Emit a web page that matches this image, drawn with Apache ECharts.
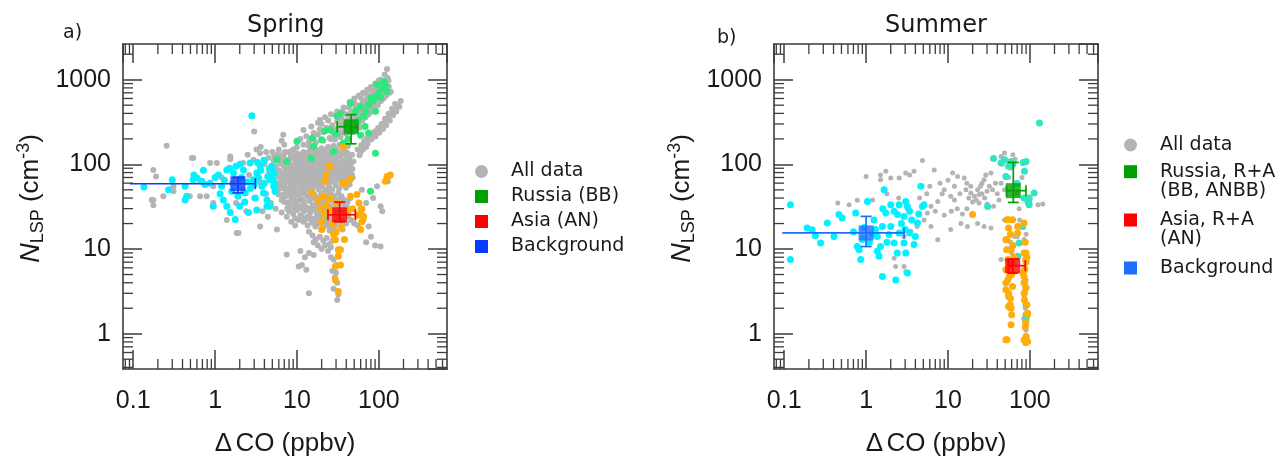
<!DOCTYPE html>
<html><head><meta charset="utf-8">
<script src="https://cdn.jsdelivr.net/npm/echarts@6/dist/echarts.min.js"></script>
<style>html,body{margin:0;padding:0;background:#fff}#c{width:1281px;height:457px}</style>
</head><body><div id="c"></div>
<script>
// ---------- ticks ----------
const xTickLabels = ['0.1', '1', '10', '100'];
const yTickLabels = ['1', '10', '100', '1000'];
const xMinorTicks = [0.08,0.09,0.2,0.3,0.4,0.5,0.6,0.7,0.8,0.9,2,3,4,5,6,7,8,9,20,30,40,50,60,70,80,90,200,300,400,500,600];
const yMinorTicks = [0.4,0.5,0.6,0.7,0.8,0.9,2,3,4,5,6,7,8,9,20,30,40,50,60,70,80,90,200,300,400,500,600,700,800,900,2000];
const xRange = [0.075, 680];
const yRange = [0.383, 2640];

// ---------- legend names ----------
const springNames = ['All data', 'Russia (BB)', 'Asia (AN)', 'Background'];
const summerNames = ['All data', 'Russia, R+A\n(BB, ANBB)', 'Asia, R+A\n(AN)', 'Background'];

// ---------- Spring data ----------
const springAll = [
[30,260],[33,280],[36,300],[38,250],[41,330],[44,360],[47,320],[50,380],[53,410],[56,350],[59,440],[62,470],[66,420],[70,500],[74,540],[78,470],[82,580],[86,620],[90,560],[95,680],[100,720],[105,650],[110,800],[116,870],[122,950],[128,1050],[126,1340],[118,1150],[108,930],[98,820],[88,740],[80,650],[72,600],[64,560],[58,500],[52,460],[46,420],[40,390],[35,350],[31,320],[27,290],[24,260],[21,240],[18,225],[16,200],[14,185],[12,170],[10,160],[9,150],[8,140],[7,135],[26,200],[29,215],[33,230],[37,240],[42,280],[48,300],[54,330],[61,380],[68,400],[76,430],[84,510],[93,600],[102,560],[112,680],[120,760],[132,830],[140,720],[24,330],[30,380],[36,420],[43,470],[51,520],[60,610],[70,680],[80,760],[92,880],[105,1000],[58,270],[20,300],[19,335],[6.8,224],
[11,200],[13,215],[14,165],[16,235],[17,180],[19,260],[21,190],[23,270],[25,205],[27,240],[29,195],[32,265],[34,210],[38,285],[40,230],[43,310],[45,250],[49,340],[52,280],[55,390],[57,310],[60,430],[63,330],[66,470],[69,360],[72,520],[75,390],[78,560],[82,420],[85,650],[89,470],[93,700],[97,500],[101,780],[106,560],[110,860],[114,600],[119,900],[124,650],[131,980],[135,700],[12,255],[15,280],[18,310],[22,360],[26,390],[31,420],[37,470],[44,550],[50,600],[57,650],[64,700],[72,760],[80,820],[90,900],[100,980],
[55,150],[61,168],[64,150],[69,190],[73,176],[77,214],[81,198],[86,228],[91,214],[96,252],[101,236],[106,278],[112,262],[117,310],[123,290],[129,350],[136,330],[142,400],[149,380],[156,440],[163,420],[171,500],[178,480],[185,560],[158,520],[145,455],[131,395],[119,345],[108,300],[98,268],[89,245],[80,226],[72,205],[66,186],[60,140],[70,160],[58,128],
[5.2,110],[6,118],[6.8,125],[7.6,112],[8.4,130],[9.2,120],[10,135],[11,118],[12,140],[13,125],[14.5,145],[15.5,128],[17,150],[18.5,132],[20,155],[22,138],[24,160],[26,142],[28,165],[30,150],[33,170],[36,155],[39,180],[42,165],[5.5,95],[6.3,102],[7.1,92],[7.9,105],[8.7,96],[9.6,108],[10.5,98],[11.5,110],[12.6,100],[13.8,112],[15,102],[16.4,115],[18,104],[19.7,118],[21.5,106],[23.5,120],[25.7,108],[28,122],[30.5,110],[33.3,125],[36.4,112],[39.7,128],[43,115],[47,130],[5,80],[5.8,86],[6.6,78],[7.4,88],[8.2,80],[9,90],[9.9,82],[10.9,92],[12,84],[13.2,94],[14.5,86],[16,96],[17.6,88],[19.4,98],[21.3,90],[23.4,100],[25.7,92],[28.3,102],[31,94],[34,104],[37.5,96],[41,106],[45,98],[49,108],
[5,68],[5.7,72],[6.5,65],[7.3,74],[8.1,67],[8.9,76],[9.8,69],[10.8,78],[11.9,71],[13.1,80],[14.4,73],[15.8,82],[17.4,75],[19.1,84],[21,77],[23.1,86],[25.4,79],[27.9,88],[30.7,81],[33.8,90],[37.2,83],[41,92],[45,85],[5.4,58],[6.2,61],[7,55],[7.8,63],[8.6,57],[9.5,65],[10.4,59],[11.4,67],[12.5,61],[13.7,69],[15,63],[16.5,71],[18.1,65],[19.9,73],[21.9,67],[24.1,75],[26.5,69],[29.1,77],[32,71],[35.2,79],[38.7,73],[42.6,81],[47,75],[5.8,50],[6.6,53],[7.4,48],[8.3,55],[9.2,50],[10.1,57],[11.1,52],[12.2,59],[13.4,54],[14.7,61],[16.2,56],[17.8,63],[19.6,58],[21.6,65],[23.8,60],[26.2,67],[28.8,62],[31.7,69],[34.9,64],[38.4,71],[42.3,66],
[6,44],[6.8,40],[7.6,46],[8.4,42],[9.3,48],[10.2,44],[11.2,40],[12.3,46],[13.5,42],[14.8,48],[16.3,44],[17.9,40],[19.7,46],[21.7,42],[23.9,48],[26.3,44],[28.9,40],[31.8,46],[35,42],[7,36],[7.9,33],[8.8,38],[9.7,34],[10.7,39],[11.8,35],[13,31],[14.3,37],[15.7,33],[17.3,38],[19,34],[20.9,30],[23,36],[25.3,32],[27.8,37],[30.6,33],[33.7,38],[37,34],[40.7,31],
[8,28],[9,26],[10,29],[11,25],[12.1,28],[13.3,24],[14.6,27],[16,23],[17.6,26],[19.4,22],[21.3,25],[23.4,21],[25.7,24],[28.3,20],[31,23],[34,19.5],[12,21],[13.5,19],[15,22],[16.8,18.5],[18.5,20],[20.5,17],[22.5,19],[25,16.5],[27.5,18],[30,15.5],[38,27],[42,24],[46,22],[50,20],[55,19],[60,17],
[5.3,125],[5.9,133],[6.4,108],[7.2,140],[7.7,99],[8.3,117],[8.8,145],[9.4,101],[9.9,126],[10.6,113],[11.3,131],[11.9,104],[12.7,119],[13.4,137],[14.1,107],[14.9,121],[15.8,139],[16.7,109],[17.5,124],[18.4,142],[19.3,111],[20.6,127],[21.8,147],[22.9,114],[24.4,131],[25.9,117],[27.2,137],[29,127],[31.5,140],[34.5,132],[37.8,145],[41,138],[44,125],
[5.1,90],[5.6,77],[6.1,84],[6.9,96],[7.3,83],[7.9,73],[8.5,87],[9.1,79],[9.8,95],[10.3,86],[11.1,74],[11.7,96],[12.5,88],[13.5,77],[14.2,97],[15.3,90],[16.3,78],[17,99],[18.3,93],[19.5,80],[20.4,100],[22.2,94],[24.2,82],[26.3,98],[27.2,84],[29.5,95],[32.5,84],[35.5,99],[39,89],[43.5,93],[47.5,88],
[5.2,62],[5.9,56],[6.4,70],[7.1,60],[7.6,68],[8.3,60],[8.8,71],[9.6,61],[10.2,72],[11,62],[11.8,75],[12.8,66],[13.3,57],[14.2,65],[15.4,76],[16.1,60],[17,68],[18.6,77],[19.2,61],[20.6,70],[22.5,80],[23,63],[25,72],[27,63],[28.5,83],[30.3,74],[33,66],[36.5,75],[40,68],[44,77],[48,70],
[5.6,47],[6.3,52],[6.9,44],[7.8,51],[8.6,45],[9.4,53],[10.6,47],[11.5,55],[12.6,49],[13.9,56],[15.2,50],[16.8,57],[18.3,51],[20.2,55],[22.3,50],[24.6,56],[27,51],[29.8,57],[32.8,52],[36.2,58],[39.8,53],[44,58],
[6.5,38],[7.3,42],[8.1,36],[9,41],[9.9,36.5],[10.9,42],[12.1,37],[13.2,43],[14.6,38.5],[16,41],[17.6,35.5],[19.5,41],[21.2,37],[23.5,42],[25.9,38],[28.3,42],[31.2,37],[34.4,41.5],[38,38],[41.6,36],[45,40],
[7.6,30],[8.5,32],[9.4,30],[10.3,32],[11.3,30.5],[12.4,33],[13.8,29],[15.1,31],[16.6,29],[18.2,31.5],[20,28],[22,32],[24.2,28.5],[26.6,30],[29.3,28],[32.3,30],[35.5,29],[39,30.5],
[9.5,23],[10.5,22],[11.6,23.5],[12.8,22.5],[14,24],[15.4,20.5],[17,21.5],[18.8,24],[20.3,20],[22.2,22.5],[24.2,19],[26.5,21.5],[29,18.5],[32,21],[35.5,22],[36,17],[40,20],
[14,16],[15.5,14.5],[17,13],[19,14],[21,12.5],[23,13.5],[25,11.5],[27,12.5],[16,12],[18,11],[20,10],[22,11],[24,9.5],[26,10.5],[14,9],[16,8.5],[12.5,8],[11,9.5],[7.5,8.6],[10.5,6.2],[13,5.7],[11.5,6.5],[26,8],[28,7.5],[30,6.5],[27,5.5],[29,4.6],[31,4],[28,3.4],[32,2.9],[31,2.5],[14,3],[30,5.2],
[65,22],[75,18.5],[105,32],[129,63],[132,72],[105,10.7],[90,11],[80,14],[70,12],[110,28],[60,30],[70,35],[85,40],[62,50],[95,55],
[4.5,120],[5,140],[6,150],[7,170],[6.5,190],[3.55,135],[3.9,113],[2.95,113],[2.2,104],[1.53,124],[1.05,104],[0.87,104],[0.54,119],[0.256,166],[0.176,86],[0.19,72],[0.176,38],[0.176,33],[0.31,55],[0.49,42],[0.655,42],[0.95,35],[1.39,22],[1.84,15.5],[3.55,18.5],[5.7,17],[0.168,38],[0.233,42],[0.31,48],[0.52,119],[0.655,63],[0.79,42],[0.95,55],[1.53,115],[1.93,15.5],[2.5,130],[3.2,150],[4,100],[3,245],[4.2,140],[3.6,160],
[1.2,70],[1.6,60],[2.2,50],[2.6,75],[3,40],[3.5,62],[4.2,45],[4.6,80],[1.8,35],[2.4,28],[3.8,28],[4.4,24],[5.5,30],[6.5,27],[7.5,24],[8.5,21],[9.5,19],[4.8,35]
];
const springBgPts = [
[0.135,54],[0.30,66],[0.27,50],[0.43,55],[0.43,38],[0.45,42],[0.54,66],[0.69,63],[0.72,85],[0.6,69],[0.87,60],[1.39,86],[1.68,79],[1.2,55],[1.26,38],[1.39,32],[1.53,27],[1.76,22.3],[2.0,32],[2.56,27],[2.33,46],[2.95,66],[3.23,79],[3.55,95],[3.73,55],[3.9,46],[4.3,38],[4.7,66],[5.2,79],[4.9,95],[4.3,32],[3.23,29],[4.7,32],[5.2,55],[2.22,86],[2.68,104],[2.81,376],[1.1,75],[1.3,65],[1.5,90],[1.0,70],[2.1,70],[2.5,62],[2.7,52],[3.0,58],[3.4,70],[3.6,85],[4.0,60],[4.4,72],[4.6,88],[5.0,68],[5.3,62],[5.4,48],[3.1,40],[2.3,36],[1.9,42],[1.6,48],[1.15,45],[0.95,32],[0.55,75],[0.75,58],[4.0,110],[3.3,105],[2.0,100],[1.8,95]
];
const springRuPts = [
[115,955],[95,870],[126,727],[91,635],[75,505],[91,423],[65,369],[52,423],[45,525],[34,400],[31,369],[25.6,257],[20,195],[15.3,204],[16,164],[10,187],[15,118],[7.5,108],[5.7,113],[28,142],[37,179],[47,245],[68,281],[75,234],[91,135],[79,48],[110,800],[100,700],[85,560],[60,480],[55,330],[40,300],[42,200],[120,860],[105,620],[70,420],[80,600],[30,230],[22,250],[60,220]
];
const springAsPts = [
[25.6,95],[23,75],[39,60],[22,63],[15.3,46],[21,42],[23,33],[19.3,30.4],[25.6,29],[45,42],[54,44],[57,35],[60,26.6],[65,24.3],[62,21],[60,17],[20,21],[20,17],[28,14.8],[29.5,12.9],[32,9.8],[34,9.8],[32,8.2],[29.5,6.2],[34,6.5],[29.5,4.3],[32,3.16],[126,72],[138,75],[120,63],[36.6,160],[24.4,95],[45,67],[36,60],[18,38],[25,40],[30,35],[42,28],[48,30],[55,25],[62,30],[22,26],[27,20],[35,18],[30,16],[38,13]
];
// mean: [x, y, xLow, xHigh, yLow, yHigh]
const springRuMean = [[45.8, 278, 31, 55, 175, 386]];
const springAsMean = [[33.2, 25.4, 23.9, 51.7, 21, 35.9]];
const springBgMean = [[1.9, 59, 0.091, 3.1, 46, 70]];

// ---------- Summer data ----------
const summerAll = [
[0.62,33.4],[0.78,37.6],[1.0,72],[1.5,66],[1.5,75],[1.74,83],[2.0,69],[2.53,69],[3.05,79],[3.4,75],[3.85,83],[4.88,111],[6.8,86],[11.4,79],[13.1,72],[15.8,69],[16.6,50],[19,46],[21,42],[23,50],[20,36],[25,55],[27.6,66],[29,75],[33.5,79],[44.5,124],[49,136],[24,44],[10.8,42],[9,50],[7.5,36.5],[6.2,32],[5.6,26.6],[5.1,22],[6.2,18.5],[7.5,12.9],[10.8,17],[14.4,20],[17.3,18.5],[23,20],[27.6,18.5],[33.5,17.7],[49,22],[4.2,18.5],[3.5,16.2],[2.9,14.1],[2.2,7.8],[2.3,6.2],[2.9,6.2],[3.05,5.4],[56,99],[44.5,60],[49,50],[126,33.4],[144,34],[74,30],[44.5,7.5],[65,14.1],[86,11.8],[90,9],[90,4.3],[86,2.76],[90,1.22],
[18,40],[22,38],[26,45],[28,40],[30,48],[32,55],[35,50],[38,60],[26,60],[24,35],[30,34],[36,32],[40,45],[42,38],[19,55],[17,60],[14,45],[12,38],[8.5,45],[6,55],[5.5,45],[4.5,40],[7,28],[9,25],[11,28],[13,30],[15,26],[17,30],[3.2,30],[2.5,40],[1.8,45],[1.2,38],[0.45,35],[8,60],[10,65],[12,55],
[52,110],[58,90],[46,100],[55,70],[62,130],[66,115],[95,40],[100,38],[70,45],[80,70],
[58,12],[60,9],[85,13],[88,6],[86,3.5],[88,2],[84,1.5],[90,1.1],[55,10],[62,7],[84,18],[90,15],[75,22],[70,14]
];
const summerBgPts = [
[0.119,33.4],[0.119,7.5],[0.191,17.7],[0.22,16.9],[0.24,14.4],[0.278,11.8],[0.336,20.3],[0.405,14.1],[0.466,25.5],[0.51,23.2],[0.746,26.6],[0.78,10.7],[0.82,9.8],[0.86,7.5],[1.04,36.5],[1.37,9.4],[1.44,8.2],[1.37,14.1],[1.58,4.75],[1.58,18.5],[1.74,26.6],[1.66,50],[2.0,33.4],[2.0,18.5],[1.9,14.8],[2.2,11.8],[2.3,4.3],[2.42,25.5],[2.53,33.4],[2.9,24.3],[3.05,36.5],[3.2,31.7],[2.9,11.8],[3.05,9],[3.2,5.2],[3.4,15.5],[3.85,11.3],[4.0,14.1],[4.24,20.3],[4.66,55],[4.88,31.7],[5.1,33.4],[2.53,15.5],[1.5,10.7],[1.2,15],[1.1,12],[0.95,18],[1.25,22],[1.8,12],[2.7,20],[3.6,22],[2.2,28],[1.6,30],[3.4,28],[4.4,26],[3.0,17],[2.4,9],[1.3,17],[0.7,16],[0.9,13]
];
const summerRuPts = [
[131,308],[36,117],[44.5,104],[59,108],[90,108],[51,72],[86,83],[113,46],[98,40],[98,33.4],[30.5,31.9],[81,18.5],[74,11.8],[71,8.2],[90,2.2],[90,1.68],[90,1.46],[49,113],[62,100],[70,60],[85,40],[95,36],[55,95],[83,105]
];
const summerAsPts = [
[20,25.5],[55,22.2],[55,17.7],[51,12.9],[52,9.8],[54,7.5],[51,5.7],[54,4.35],[51,3.3],[55,2.76],[55,2.1],[59,2.0],[59,1.28],[51,0.85],[56,4.75],[71,18.5],[71,15.5],[90,9],[90,7.1],[86,5.7],[85,4.75],[86,4],[86,3.0],[86,2.5],[94,1.75],[90,0.93],[94,0.81],[82,5.2],[52.6,22.2],[61.5,22.2],[52.6,12.9],[59,9.8],[85,20.3],[85,9],[89,7.5],[87,5.7],[51,4],[61.5,3.6],[85,4],[85,3.0],[57.5,2.2],[60,1.68],[94,1.68],[89,1.34],[52.6,0.85],[85,0.85],[89,0.78],[58,15],[62,11],[64,8],[57,6.5],[60,5],[88,12],[92,8],[90,3.5],[92,2.2],[88,1.2],[55,3],[58,2.6]
];
const summerRuMean = [[62.8, 48.9, 52, 89.8, 35.5, 105.5]];
const summerAsMean = [[61.7, 6.36, 55, 88, 5.2, 7.6]];
const summerBgMean = [[1.0, 15.5, 0.0945, 2.91, 10.7, 24.3]];

// ---------- styling ----------
const AX = '#3c3c3c';
const C = {gray:'#b4b4b4', cyan:'#00f2ff', green:'#2ee87e', turq:'#2ee6c2', orange:'#ffad0a',
  ruSq:'#00a000', asSq:'#ff0000', bgSqA:'#0a3cff', bgSqB:'#1f6fff'};

function tickLabel(v, labels){
  const t = labels.find(s => Math.abs(Math.log10(v) - Math.log10(parseFloat(s))) < 1e-6);
  return t === undefined ? '' : t;
}
function mkAxis(gi, kind, pos, showLabel){
  const isX = kind === 'x';
  const labels = isX ? xTickLabels : yTickLabels;
  const r = isX ? xRange : yRange;
  return {
    type:'log', logBase:10, gridIndex:gi, position:pos, min:r[0], max:r[1],
    axisLine:{show:true, onZero:false, lineStyle:{color:AX, width:1.6}},
    axisTick:{show:true, inside:true, length:19, lineStyle:{color:AX, width:1.5}},
    minorTick:{show:false}, splitLine:{show:false}, minorSplitLine:{show:false},
    axisLabel:{show:showLabel, showMinLabel:false, showMaxLabel:false, margin: isX?20:12,
      fontSize:25, fontFamily:'Liberation Sans', color:'#1a1a1a',
      formatter: v => tickLabel(v, labels)},
    name: showLabel ? (isX ? '{a|Δ}{s| }{a|CO (ppbv)}' : '{i|N}{sub|LSP}{a| (cm}{sup|-3}{a|)}') : '',
    nameLocation:'middle', nameGap: isX ? 59 : 76, nameRotate: isX ? 0 : 90,
    nameTextStyle:{
      color:'#1a1a1a', fontFamily:'Liberation Sans', padding: isX ? 0 : [0,0,0,16],
      rich:{
        a:{fontSize:26, fontFamily:'Liberation Sans', color:'#1a1a1a', lineHeight:32},
        s:{fontSize:12, lineHeight:32},
        i:{fontSize:27, fontStyle:'italic', fontFamily:'Liberation Sans', color:'#1a1a1a', lineHeight:32},
        sub:{fontSize:18, fontFamily:'Liberation Sans', color:'#1a1a1a', verticalAlign:'bottom', lineHeight:14},
        sup:{fontSize:18, fontFamily:'Liberation Sans', color:'#1a1a1a', verticalAlign:'top', lineHeight:8}
      }
    }
  };
}

// minor ticks drawn through the axes' own scales
function minorTickSeries(gi){
  const ax = {xAxisIndex: gi*2, yAxisIndex: gi*2};
  const data = xMinorTicks.map(v => [v, yRange[0], 0]).concat(yMinorTicks.map(v => [xRange[0], v, 1]));
  return Object.assign({
    type:'custom', name:'minor ticks', silent:true, z:10, clip:false, data,
    renderItem(params, api){
      const v0 = api.value(0), v1 = api.value(1), dir = api.value(2);
      const st = {stroke:AX, lineWidth:1.3};
      const L = 10;
      if (dir === 0) {
        const b = api.coord([v0, yRange[0]]), t = api.coord([v0, yRange[1]]);
        return {type:'group', children:[
          {type:'line', shape:{x1:b[0], y1:b[1], x2:b[0], y2:b[1]-L}, style:st},
          {type:'line', shape:{x1:t[0], y1:t[1], x2:t[0], y2:t[1]+L}, style:st}]};
      }
      const l = api.coord([xRange[0], v1]), r = api.coord([xRange[1], v1]);
      return {type:'group', children:[
        {type:'line', shape:{x1:l[0], y1:l[1], x2:l[0]+L, y2:l[1]}, style:st},
        {type:'line', shape:{x1:r[0], y1:r[1], x2:r[0]-L, y2:r[1]}, style:st}]};
    }
  }, ax);
}

function errRender(color, capLowX){
  return function(params, api){
    const x = api.value(0), y = api.value(1);
    const c = api.coord([x, y]);
    const xl = api.coord([api.value(2), y]), xh = api.coord([api.value(3), y]);
    const yl = api.coord([x, api.value(4)]), yh = api.coord([x, api.value(5)]);
    const st = {stroke: color, lineWidth: 1.7};
    const k = 5.5;
    const ch = [
      {type:'line', shape:{x1:xl[0], y1:c[1], x2:xh[0], y2:c[1]}, style:st},
      {type:'line', shape:{x1:c[0], y1:yl[1], x2:c[0], y2:yh[1]}, style:st},
      {type:'line', shape:{x1:xh[0], y1:c[1]-k, x2:xh[0], y2:c[1]+k}, style:st},
      {type:'line', shape:{x1:c[0]-k, y1:yl[1], x2:c[0]+k, y2:yl[1]}, style:st},
      {type:'line', shape:{x1:c[0]-k, y1:yh[1], x2:c[0]+k, y2:yh[1]}, style:st}
    ];
    if (capLowX) ch.push({type:'line', shape:{x1:xl[0], y1:c[1]-k, x2:xl[0], y2:c[1]+k}, style:st});
    return {type:'group', children: ch};
  };
}

function panelSeries(gi, d){
  const ax = {xAxisIndex: gi*2, yAxisIndex: gi*2};
  const pts = (name, data, color, size, z) => Object.assign({type:'scatter', name, data, symbolSize:size,
    itemStyle:{color, opacity:1}, z, silent:true, emphasis:{disabled:true}}, ax);
  const err = (name, data, color, capLowX) => Object.assign({type:'custom', name, data,
    renderItem: errRender(color, capLowX), z:5, silent:true}, ax);
  const sq = (name, data, color) => Object.assign({type:'scatter', name, data:data.map(r=>[r[0],r[1]]),
    symbol:'rect', symbolSize:15, itemStyle:{color}, z:6}, ax);
  return [
    pts(d.names[0], d.all, C.gray, gi ? 5 : 6, 1),
    pts(d.names[3] + ' points', d.bg, C.cyan, 7, 2),
    pts(d.names[1] + ' points', d.ru, d.ruColor, 7, 3),
    pts(d.names[2] + ' points', d.as, C.orange, 7, 3),
    err(d.names[1], d.ruM, C.ruSq, true),
    err(d.names[2], d.asM, C.asSq, true),
    err(d.names[3], d.bgM, d.bgColor, false),
    sq(d.names[1], d.ruM, C.ruSq),
    sq(d.names[2], d.asM, C.asSq),
    sq(d.names[3], d.bgM, d.bgColor),
    minorTickSeries(gi)
  ];
}

const series = [].concat(
  panelSeries(0, {names:springNames, all:springAll, bg:springBgPts, ru:springRuPts, as:springAsPts,
    ruM:springRuMean, asM:springAsMean, bgM:springBgMean, ruColor:C.green, bgColor:C.bgSqA}),
  panelSeries(1, {names:summerNames, all:summerAll, bg:summerBgPts, ru:summerRuPts, as:summerAsPts,
    ruM:summerRuMean, asM:summerAsMean, bgM:summerBgMean, ruColor:C.turq, bgColor:C.bgSqB})
);

const legTxt = {fontSize:19, fontFamily:'DejaVu Sans', color:'#1a1a1a'};
function legItem(name, color, icon){ return {name, icon, itemStyle:{color, borderWidth:0}}; }
const oneLine = {lineHeight:22, padding:[0,0,0,18]};
const twoLine = {lineHeight:19, padding:[0,0,0,18]};
const legends = [
  {orient:'vertical', left:475, top:160.5, padding:0, itemWidth:13, itemHeight:13, itemGap:3,
   textStyle:Object.assign({}, oneLine, legTxt),
   data:[legItem(springNames[0], C.gray, 'circle'), legItem(springNames[1], C.ruSq, 'rect'),
         legItem(springNames[2], C.asSq, 'rect'), legItem(springNames[3], C.bgSqA, 'rect')]},
  {left:1124, top:134, padding:0, itemWidth:13, itemHeight:13,
   textStyle:Object.assign({}, oneLine, legTxt),
   data:[legItem(summerNames[0], C.gray, 'circle')]},
  {left:1124, top:143.2, padding:0, itemWidth:13, itemHeight:13, formatter: n => ' \n' + n,
   textStyle:Object.assign({}, twoLine, legTxt),
   data:[legItem(summerNames[1], C.ruSq, 'rect')]},
  {left:1124, top:191.5, padding:0, itemWidth:13, itemHeight:13, formatter: n => ' \n' + n,
   textStyle:Object.assign({}, twoLine, legTxt),
   data:[legItem(summerNames[2], C.asSq, 'rect')]},
  {left:1124, top:257, padding:0, itemWidth:13, itemHeight:13,
   textStyle:Object.assign({}, oneLine, legTxt),
   data:[legItem(summerNames[3], C.bgSqB, 'rect')]}
];

const titleStyle = {fontSize:24, fontWeight:'normal', fontFamily:'DejaVu Sans', color:'#1a1a1a'};
const panelTag = {fontSize:19, fontWeight:'normal', fontFamily:'DejaVu Sans', color:'#1a1a1a'};

const option = {
  animation:false,
  backgroundColor:'#fff',
  title:[
    {text:'Spring', left:247, top:14, padding:0, textStyle:titleStyle},
    {text:'Summer', left:885, top:14, padding:0, textStyle:titleStyle},
    {text:'a)', left:63, top:24, padding:0, textStyle:panelTag},
    {text:'b)', left:717, top:29, padding:0, textStyle:panelTag}
  ],
  legend: legends,
  grid:[
    {left:123, top:44, width:324, height:325, containLabel:false, outerBoundsMode:'none'},
    {left:774, top:44, width:324, height:325, containLabel:false, outerBoundsMode:'none'}
  ],
  xAxis:[mkAxis(0,'x','bottom',true), mkAxis(0,'x','top',false), mkAxis(1,'x','bottom',true), mkAxis(1,'x','top',false)],
  yAxis:[mkAxis(0,'y','left',true), mkAxis(0,'y','right',false), mkAxis(1,'y','left',true), mkAxis(1,'y','right',false)],
  series
};
const chart = echarts.init(document.getElementById('c'), null, {renderer:'canvas'});
chart.setOption(option);
</script>
</body></html>
